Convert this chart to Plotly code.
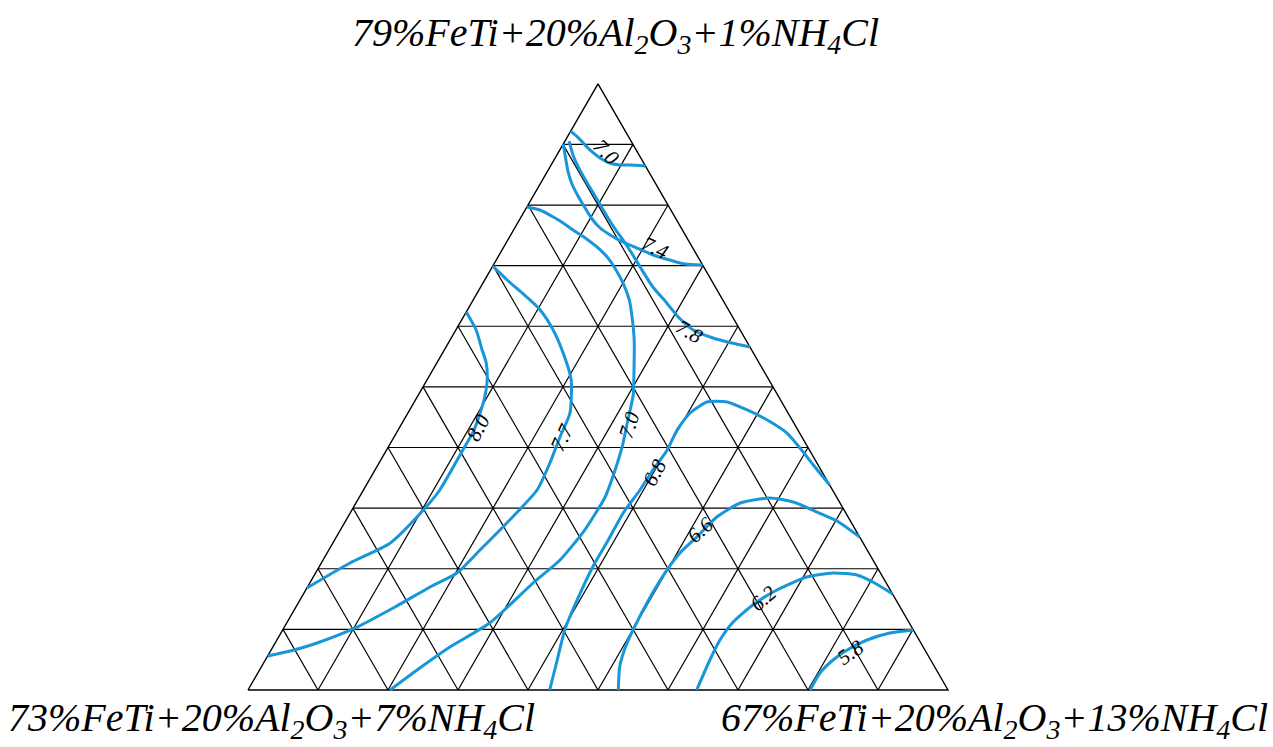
import math
import plotly.graph_objects as go

# Mixture compositions along each iso-line, as fractions of the
# top vertex mixture (a) and the lower-right vertex mixture (c);
# the lower-left vertex fraction is b = 1 - a - c.
iso_70_top_a = [0.922, 0.912, 0.896, 0.8875, 0.8776, 0.8693, 0.8661, 0.8661, 0.8644]
iso_70_top_c = [0.000, 0.015, 0.036, 0.048, 0.064, 0.082, 0.098, 0.113, 0.1356]

iso_74_a = [0.9007, 0.8743, 0.8545, 0.8347, 0.8149, 0.7951, 0.7770, 0.7621, 0.7506,
            0.7390, 0.7291, 0.7176, 0.7093, 0.7027, 0.7011]
iso_74_c = [0.000, 0.017, 0.030, 0.0455, 0.064, 0.084, 0.103, 0.122, 0.142,
            0.166, 0.191, 0.220, 0.248, 0.273, 0.2989]

iso_78_a = [0.9056, 0.8826, 0.8611, 0.8397, 0.8182, 0.7984, 0.7786, 0.7588, 0.7374,
            0.7176, 0.6961, 0.6648, 0.6384, 0.6153, 0.5939, 0.5807, 0.5724, 0.5658]
iso_78_c = [0.006, 0.023, 0.042, 0.063, 0.085, 0.105, 0.125, 0.146, 0.170,
            0.191, 0.213, 0.246, 0.279, 0.307, 0.339, 0.374, 0.405, 0.4342]

iso_80_a = [0.6236, 0.5939, 0.5609, 0.5411, 0.5114, 0.4784, 0.4289, 0.3959, 0.3299,
            0.3002, 0.2425, 0.2095, 0.1683]
iso_80_c = [0.000, 0.029, 0.054, 0.0695, 0.086, 0.098, 0.1085, 0.109, 0.109,
            0.103, 0.082, 0.041, 0.000]

iso_77_a = [0.6994, 0.6928, 0.6763, 0.6483, 0.6269, 0.5939, 0.5526, 0.5114, 0.4569,
            0.4174, 0.3745, 0.3299, 0.2755, 0.2309, 0.1930, 0.1716, 0.1369, 0.1023,
            0.0775, 0.0643, 0.0561]
iso_77_c = [0.000, 0.009, 0.032, 0.074, 0.104, 0.139, 0.175, 0.206, 0.2315,
            0.237, 0.244, 0.248, 0.232, 0.216, 0.202, 0.177, 0.1415, 0.102,
            0.060, 0.028, 0.000]

iso_70_mid_a = [0.7968, 0.7918, 0.7803, 0.7704, 0.7588, 0.7456, 0.7308, 0.7143, 0.6961,
                0.6714, 0.6434, 0.6153, 0.5774, 0.5279, 0.4866, 0.4454, 0.4009, 0.3629,
                0.3184, 0.2639, 0.2145, 0.1765, 0.1105, 0.0709, 0.0330, 0.0]
iso_70_mid_c = [0.000, 0.021, 0.046, 0.065, 0.085, 0.109, 0.133, 0.156, 0.176,
                0.200, 0.223, 0.241, 0.263, 0.2875, 0.307, 0.320, 0.334, 0.343,
                0.351, 0.349, 0.3385, 0.319, 0.290, 0.253, 0.225, 0.203]

iso_68_a = [0.0, 0.0495, 0.099, 0.1485, 0.2029, 0.2474, 0.2920, 0.3299, 0.3629,
            0.3959, 0.4289, 0.4569, 0.4751, 0.4751, 0.4619, 0.4454, 0.4239, 0.3992,
            0.3695, 0.3382]
iso_68_c = [0.431, 0.417, 0.403, 0.396, 0.391, 0.391, 0.390, 0.395, 0.397,
            0.401, 0.3985, 0.403, 0.418, 0.447, 0.482, 0.519, 0.558, 0.589,
            0.624, 0.6618]

iso_66_a = [0.0, 0.0379, 0.0693, 0.099, 0.1534, 0.1980, 0.2260, 0.2524, 0.2854,
            0.3085, 0.3167, 0.3101, 0.2936, 0.2788, 0.2524]
iso_66_c = [0.529, 0.512, 0.504, 0.5005, 0.498, 0.4996, 0.504, 0.515, 0.527,
            0.549, 0.587, 0.624, 0.666, 0.702, 0.7476]

iso_62_a = [0.0, 0.0495, 0.0825, 0.1122, 0.1402, 0.1650, 0.1864, 0.1930, 0.1897,
            0.1765, 0.1584]
iso_62_c = [0.641, 0.635, 0.633, 0.637, 0.651, 0.673, 0.705, 0.739, 0.775,
            0.807, 0.8416]

iso_58_a = [0.0, 0.028, 0.0495, 0.066, 0.0825, 0.094, 0.099]
iso_58_c = [0.803, 0.803, 0.811, 0.823, 0.843, 0.870, 0.901]

contours = [
    ("7.0", iso_70_top_a, iso_70_top_c),
    ("7.4", iso_74_a, iso_74_c),
    ("7.8", iso_78_a, iso_78_c),
    ("8.0", iso_80_a, iso_80_c),
    ("7.7", iso_77_a, iso_77_c),
    ("7.0", iso_70_mid_a, iso_70_mid_c),
    ("6.8", iso_68_a, iso_68_c),
    ("6.6", iso_66_a, iso_66_c),
    ("6.2", iso_62_a, iso_62_c),
    ("5.8", iso_58_a, iso_58_c),
]

# where each level is written on its line (a, c) and the text rotation
label_text = ["7.0", "7.4", "7.8", "8.0", "7.7", "7.0", "6.8", "6.6", "6.2", "5.8"]
label_a = [0.8875, 0.7291, 0.5906, 0.4322, 0.4174, 0.4371, 0.3596, 0.2639, 0.1518, 0.0627]
label_c = [0.068, 0.218, 0.336, 0.1125, 0.240, 0.326, 0.4016, 0.514, 0.661, 0.830]
label_angle = [45, 25, 30, -62, -65, -72, -62, -42, -40, -35]

vertex_top = "79%FeTi+20%Al<sub>2</sub>O<sub>3</sub>+1%NH<sub>4</sub>Cl"
vertex_left = "73%FeTi+20%Al<sub>2</sub>O<sub>3</sub>+7%NH<sub>4</sub>Cl"
vertex_right = "67%FeTi+20%Al<sub>2</sub>O<sub>3</sub>+13%NH<sub>4</sub>Cl"

H = math.sqrt(3) / 2
W, HT = 1273, 747


def to_xy(a, c):
    return c + a / 2, a * H


fig = go.Figure()

# triangular grid, 10 divisions per side
gx, gy = [], []
for k in range(1, 10):
    t = k / 10
    for (a0, c0), (a1, c1) in [((t, 0), (t, 1 - t)),
                               ((0, t), (1 - t, t)),
                               ((0, 1 - t), (1 - t, 0))]:
        x0, y0 = to_xy(a0, c0)
        x1, y1 = to_xy(a1, c1)
        gx += [x0, x1, None]
        gy += [y0, y1, None]
fig.add_trace(go.Scatter(x=gx, y=gy, mode="lines",
                         line=dict(color="black", width=1.2),
                         hoverinfo="skip", showlegend=False))

ox, oy = zip(*[to_xy(a, c) for a, c in [(0, 0), (0, 1), (1, 0), (0, 0)]])
fig.add_trace(go.Scatter(x=list(ox), y=list(oy), mode="lines",
                         line=dict(color="black", width=1.4),
                         hoverinfo="skip", showlegend=False))

for level, a_vals, c_vals in contours:
    pts = [to_xy(a, c) for a, c in zip(a_vals, c_vals)]
    fig.add_trace(go.Scatter(
        x=[p[0] for p in pts], y=[p[1] for p in pts], mode="lines",
        line=dict(color="#1896da", width=3, shape="spline", smoothing=0.6),
        name=level, showlegend=False))

label_font = dict(family="Liberation Serif", size=21, color="black", style="italic")
for txt, a, c, ang in zip(label_text, label_a, label_c, label_angle):
    x, y = to_xy(a, c)
    fig.add_annotation(x=x, y=y, xref="x", yref="y", text=txt, showarrow=False,
                       textangle=ang, font=label_font)

title_font = dict(family="Liberation Serif", size=40, color="black", style="italic")
fig.add_annotation(x=615 / W, y=1 - 8 / HT, xref="paper", yref="paper", text=vertex_top,
                   showarrow=False, font=title_font, xanchor="center", yanchor="top")
fig.add_annotation(x=6 / W, y=1 - 693 / HT, xref="paper", yref="paper", text=vertex_left,
                   showarrow=False, font=title_font, xanchor="left", yanchor="top")
fig.add_annotation(x=1270 / W, y=1 - 693 / HT, xref="paper", yref="paper", text=vertex_right,
                   showarrow=False, font=title_font, xanchor="right", yanchor="top")

fig.update_xaxes(range=[-248 / 700, 1025 / 700], visible=False, fixedrange=True)
fig.update_yaxes(range=[-57 / 700, 690 / 700], visible=False, fixedrange=True)
fig.update_layout(width=W, height=HT, margin=dict(l=0, r=0, t=0, b=0),
                  paper_bgcolor="white", plot_bgcolor="white")

fig.write_html("out.html")
